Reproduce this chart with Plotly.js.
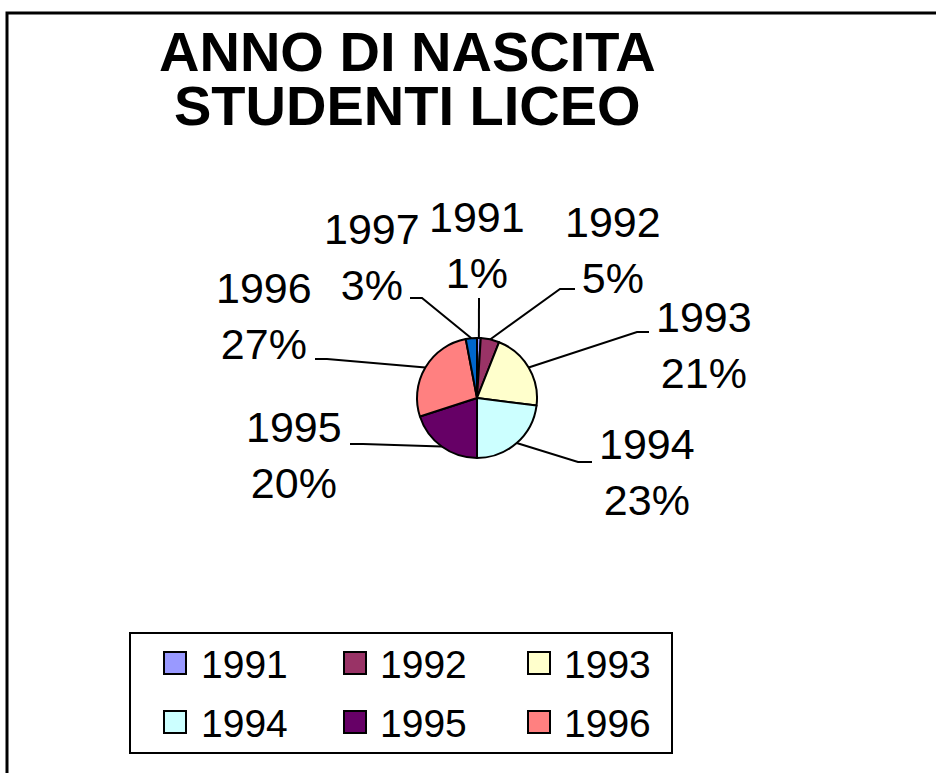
<!DOCTYPE html>
<html>
<head>
<meta charset="utf-8">
<script src="https://cdn.plot.ly/plotly-3.0.1.min.js"></script>
<style>html,body{margin:0;padding:0;background:#fff;}#chart{width:936px;height:773px;}</style>
</head>
<body>
<div id="chart"></div>
<script>
// ---- data ----
const categories = ['1991', '1992', '1993', '1994', '1995', '1996', '1997'];
const values = [1, 5, 21, 23, 20, 27, 3];
const sliceColors = ['#9999FF', '#993366', '#FFFFCC', '#CCFFFF', '#660066', '#FF8080', '#0066CC'];
const legendCategories = ['1991', '1992', '1993', '1994', '1995', '1996'];
const titleLines = ['ANNO DI NASCITA', 'STUDENTI LICEO'];

// ---- layout helpers (pixel positions) ----
const W = 936, H = 773;
const px = x => x / W;
const py = y => 1 - y / H;
const cx = 477, cy = 398, R = 60;
// label text centres and leader-line stubs (inner end, outer end)
const labelPos = [
  {tx: 477, ty: 245, ix: 479, iy: 298, ox: 479, oy: 298},
  {tx: 613, ty: 250, ix: 560, iy: 289, ox: 575, oy: 289},
  {tx: 704, ty: 345, ix: 637, iy: 332, ox: 649, oy: 332},
  {tx: 647, ty: 472, ix: 578, iy: 462, ox: 592, oy: 462},
  {tx: 294, ty: 455, ix: 363, iy: 444, ox: 350, oy: 444},
  {tx: 264, ty: 316, ix: 327, iy: 359, ox: 315, oy: 359},
  {tx: 372, ty: 257, ix: 422, iy: 298, ox: 410, oy: 298}
];
// legend layout: 3 columns x 2 rows
const legCols = [{sq: 175, tx: 199}, {sq: 355, tx: 378}, {sq: 539, tx: 562}];
const legRows = [663, 722];
const SQ = 22;

const FONT = 'Liberation Sans, Arial, sans-serif';
const total = values.reduce((a, b) => a + b, 0);

const traces = [{
  type: 'pie',
  labels: categories,
  values: values,
  sort: false,
  direction: 'clockwise',
  rotation: 0,
  textinfo: 'none',
  hoverinfo: 'none',
  showlegend: false,
  marker: {colors: sliceColors, line: {color: '#000', width: 2}},
  domain: {x: [px(cx - R), px(cx + R)], y: [py(cy + R), py(cy - R)]}
}];

const shapes = [
  {type: 'rect', xref: 'paper', yref: 'paper', x0: px(7), x1: 1.05, y0: py(13), y1: -0.05,
   line: {color: '#000', width: 3}, fillcolor: 'rgba(0,0,0,0)'},
  {type: 'rect', xref: 'paper', yref: 'paper', x0: px(130), x1: px(672), y0: py(633), y1: py(753),
   line: {color: '#000', width: 2}, fillcolor: 'rgba(0,0,0,0)'}
];

const annotations = [
  {text: titleLines[0], x: px(407), y: py(51), xref: 'paper', yref: 'paper', showarrow: false, height: 52,
   xanchor: 'center', yanchor: 'middle', font: {family: FONT, size: 56, color: '#000', weight: 'bold'}},
  {text: titleLines[1], x: px(407), y: py(105), xref: 'paper', yref: 'paper', showarrow: false, height: 52,
   xanchor: 'center', yanchor: 'middle', font: {family: FONT, size: 56, color: '#000', weight: 'bold'}}
];

let cum = 0;
categories.forEach(function (c, i) {
  const theta = 2 * Math.PI * (cum + values[i] / 2) / total;
  cum += values[i];
  const ex = cx + R * Math.sin(theta), ey = cy - R * Math.cos(theta);
  const L = labelPos[i];
  shapes.push({
    type: 'path', xref: 'paper', yref: 'paper',
    path: 'M' + px(ex) + ',' + py(ey) + 'L' + px(L.ix) + ',' + py(L.iy) + 'L' + px(L.ox) + ',' + py(L.oy),
    line: {color: '#000', width: 2}
  });
  annotations.push({
    text: c + '<br>' + Math.round(values[i] / total * 100) + '%',
    x: px(L.tx), y: py(L.ty), xref: 'paper', yref: 'paper', showarrow: false,
    xanchor: 'center', yanchor: 'middle', align: 'center',
    font: {family: FONT, size: 43, color: '#000'}
  });
});

legendCategories.forEach(function (c, k) {
  const i = categories.indexOf(c);
  const col = legCols[k % 3], row = legRows[Math.floor(k / 3)];
  shapes.push({
    type: 'rect', xref: 'paper', yref: 'paper',
    x0: px(col.sq - SQ / 2), x1: px(col.sq + SQ / 2), y0: py(row - SQ / 2), y1: py(row + SQ / 2),
    fillcolor: sliceColors[i], line: {color: '#000', width: 2}
  });
  annotations.push({
    text: c, x: px(col.tx), y: py(row + 1), xref: 'paper', yref: 'paper', showarrow: false,
    xanchor: 'left', yanchor: 'middle', font: {family: FONT, size: 39, color: '#000'}
  });
});

const layout = {
  width: W, height: H,
  margin: {l: 0, r: 0, t: 0, b: 0},
  paper_bgcolor: '#fff', plot_bgcolor: '#fff',
  showlegend: false,
  shapes: shapes,
  annotations: annotations
};

Plotly.newPlot('chart', traces, layout, {staticPlot: true});
</script>
</body>
</html>
